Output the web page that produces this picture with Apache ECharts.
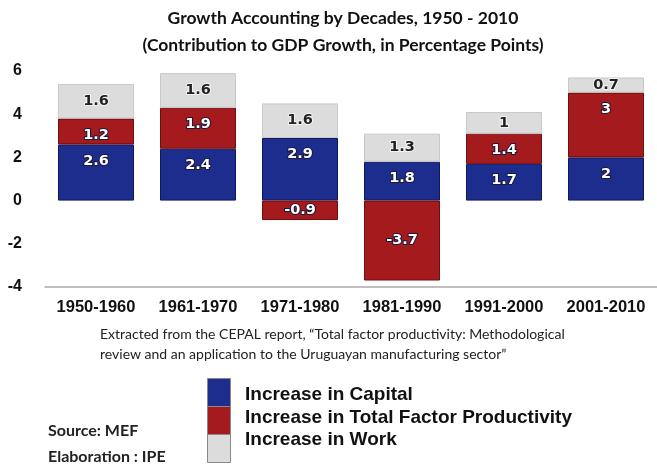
<!DOCTYPE html>
<html>
<head>
<meta charset="utf-8">
<script src="https://cdn.jsdelivr.net/npm/echarts@6/dist/echarts.min.js"></script>
<style>
html,body{margin:0;padding:0;background:#fff;}
#chart{width:657px;height:466px;}
</style>
</head>
<body>
<div id="chart"></div>
<script>
const categories = ['1950-1960', '1961-1970', '1971-1980', '1981-1990', '1991-2000', '2001-2010'];
const capital = [2.6, 2.4, 2.9, 1.8, 1.7, 2];
const tfp = [1.2, 1.9, -0.9, -3.7, 1.4, 3];
const work = [1.6, 1.6, 1.6, 1.3, 1, 0.7];
const seriesNames = ['Increase in Capital', 'Increase in Total Factor Productivity', 'Increase in Work'];
const yTicks = { min: -4, max: 6, interval: 2 };
const titleLines = ['Growth Accounting by Decades, 1950 - 2010', '(Contribution to GDP Growth, in Percentage Points)'];
const noteLines = ['Extracted from the CEPAL report, \u201cTotal factor productivity: Methodological', 'review and an application to the Uruguayan manufacturing sector\u201d'];
const sourceLines = ['Source: MEF', 'Elaboration : IPE'];

const colors = ['#1c2d8e', '#a51a1c', '#dcdcdc'];
const borders = ['#0f1a5e', '#6e0f10', '#c8c8c8'];

const chart = echarts.init(document.getElementById('chart'), null, { renderer: 'canvas' });

function items(arr, topStyle) {
  return arr.map(v => ({
    value: v,
    label: { position: (v < 0 || !topStyle) ? 'inside' : 'insideTop', distance: 9 }
  }));
}

const darkLabel = {
  show: true, color: '#ffffff', fontFamily: 'DejaVu Sans', fontWeight: 'bold', fontSize: 14.5,
  textBorderColor: '#1a1a3a', textBorderWidth: 2
};
const lightLabel = {
  show: true, color: '#222222', fontFamily: 'DejaVu Sans', fontWeight: 'bold', fontSize: 14.5,
  textBorderColor: '#f4f4f4', textBorderWidth: 2
};

const series = [capital, tfp, work].map((arr, i) => ({
  name: seriesNames[i],
  type: 'bar',
  stack: 'total',
  barWidth: 76,
  data: items(arr, i < 2),
  itemStyle: { color: colors[i], borderColor: borders[i], borderWidth: 1 },
  label: i < 2 ? darkLabel : lightLabel,
  emphasis: { disabled: true }
}));

const option = {
  animation: false,
  title: {
    text: titleLines.join('\n'),
    left: 338, textAlign: 'center', top: 0,
    textStyle: { fontFamily: 'Lato', fontWeight: 'bold', fontSize: 17.5, lineHeight: 27, color: '#111' }
  },
  grid: { left: 45, width: 622, top: 71, height: 216 },
  legend: {
    data: seriesNames,
    orient: 'vertical',
    left: 234, top: 380,
    itemWidth: 0, itemHeight: 0, itemGap: 2,
    icon: 'rect',
    selectedMode: false,
    textStyle: { fontFamily: 'Liberation Sans', fontWeight: 'bold', fontSize: 19, color: '#111', lineHeight: 20.5 }
  },
  xAxis: [{
    type: 'category', data: categories,
    axisLine: { show: false }, axisTick: { show: false },
    axisLabel: { interval: 0, margin: 12, color: '#111', fontFamily: 'Liberation Sans', fontWeight: 'bold', fontSize: 16.5 }
  }, {
    type: 'category', data: categories, position: 'bottom',
    axisLine: { show: true, onZero: true, lineStyle: { color: '#aaaaaa', width: 1.5 } },
    axisTick: { show: false }, axisLabel: { show: false }
  }],
  yAxis: {
    type: 'value', min: yTicks.min, max: yTicks.max, interval: yTicks.interval,
    splitLine: { show: false }, axisLine: { show: false }, axisTick: { show: false },
    axisLabel: { margin: 23, color: '#111', fontFamily: 'Liberation Sans', fontWeight: 'bold', fontSize: 16 }
  },
  graphic: [
    { type: 'rect', left: 207, top: 378, shape: { width: 23, height: 28 }, style: { fill: colors[0], stroke: '#888', lineWidth: 1 } },
    { type: 'rect', left: 207, top: 406, shape: { width: 23, height: 28 }, style: { fill: colors[1], stroke: '#888', lineWidth: 1 } },
    { type: 'rect', left: 207, top: 434, shape: { width: 23, height: 28 }, style: { fill: colors[2], stroke: '#888', lineWidth: 1 } },
    { type: 'text', left: 100, top: 324, style: { text: noteLines.join('\n'), fontFamily: 'Lato', fontSize: 14, lineHeight: 20, fill: '#222' } },
    { type: 'text', left: 48, top: 418, style: { text: sourceLines.join('\n'), fontFamily: 'Lato', fontWeight: 'bold', fontSize: 16, lineHeight: 26, fill: '#222' } }
  ],
  series: series
};
chart.setOption(option);
</script>
</body>
</html>
